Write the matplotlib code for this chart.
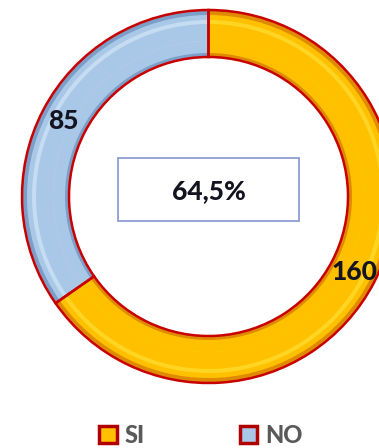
import matplotlib
matplotlib.use('Agg')
import matplotlib.pyplot as plt
from matplotlib.patches import Rectangle

labels = ['SI', 'NO']
values = [160, 85]
center_label = '64,5%'

fill_colors = ['#FFC000', '#A9C8E8']
dark_colors = ['#E08A00', '#7C9FC8']
light_colors = ['#FFD524', '#C6DCF1']

W, H = 379, 448
fig = plt.figure(figsize=(W / 100, H / 100), dpi=100)
ax = fig.add_axes([0, 0, 1, 1])

cx, cy = 208.5, H - 196.5
r_out, ring = 186.5, 47
font = ['Lato', 'DejaVu Sans']

# shaded ring: dark base, main colour, light band
ax.pie(values, colors=dark_colors, startangle=90, counterclock=False,
       radius=r_out, center=(cx, cy),
       wedgeprops=dict(width=ring, linewidth=0))
ax.pie(values, colors=fill_colors, startangle=90, counterclock=False,
       radius=r_out - 5, center=(cx, cy),
       wedgeprops=dict(width=ring - 9, linewidth=0))
ax.pie(values, colors=light_colors, startangle=90, counterclock=False,
       radius=r_out - 10, center=(cx, cy),
       wedgeprops=dict(width=ring - 26, linewidth=0))
ax.pie(values, colors=fill_colors, startangle=90, counterclock=False,
       radius=r_out - 14, center=(cx, cy),
       wedgeprops=dict(width=ring - 30, linewidth=0))

# outline with value labels
total = sum(values)
wedges, _, autotexts = ax.pie(
    values, startangle=90, counterclock=False,
    radius=r_out, center=(cx, cy),
    autopct=lambda p: f'{p * total / 100:.0f}', pctdistance=0.88,
    wedgeprops=dict(width=ring, edgecolor='#C80000', linewidth=1.8))
for w in wedges:
    w.set_facecolor('none')
for t in autotexts:
    t.set_fontfamily(font)
    t.set_fontweight('black')
    t.set_fontsize(19)
    t.set_color('#141420')

# centre box
ax.add_patch(Rectangle((118, H - 221), 181, 63, facecolor='white',
                       edgecolor='#8E9ED6', linewidth=1.3))
ax.text(209, H - 191, center_label, ha='center', va='center',
        fontsize=19, fontweight='black', color='#141420', family=font)

ax.set_xlim(0, W)
ax.set_ylim(0, H)
ax.set_aspect('equal')
ax.axis('off')

# legend
handles = []
for fc in fill_colors:
    handles.append(Rectangle((0, 0), 1, 1, facecolor=fc, edgecolor='#B00000', linewidth=2.5))
leg = fig.legend(handles, labels, ncol=2, loc='center',
                 bbox_to_anchor=(201 / W, 1 - 435 / H), frameon=False,
                 handlelength=0.75, handleheight=0.75, handletextpad=0.35,
                 columnspacing=4.0,
                 prop=dict(family=font, weight='black', size=17))
for t in leg.get_texts():
    t.set_color('#595959')

fig.savefig('out.png', dpi=100)
